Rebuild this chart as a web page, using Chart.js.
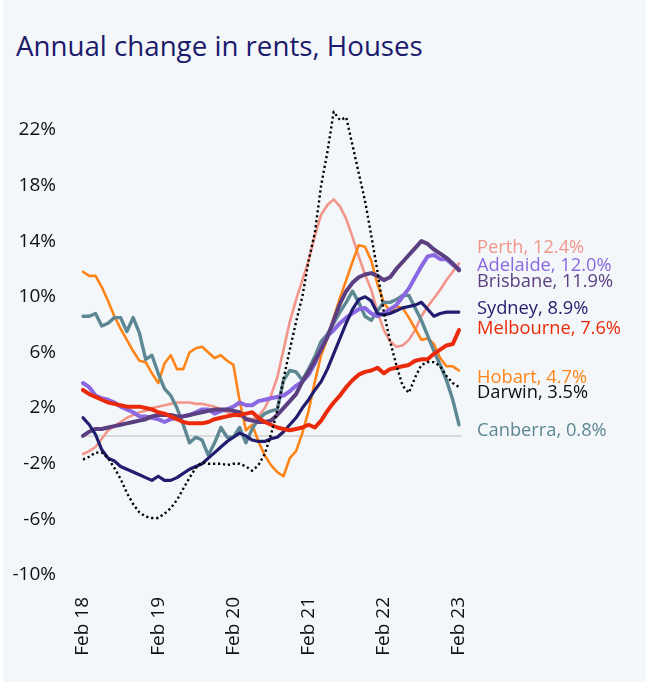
<!DOCTYPE html>
<html><head><meta charset="utf-8">
<script src="https://cdn.jsdelivr.net/npm/chart.js@4.4.1/dist/chart.umd.min.js"></script>
<style>
html,body{margin:0;padding:0;background:#fff;}
#wrap{position:absolute;left:0;top:0;width:646px;height:682px;overflow:hidden;}
#bg{position:absolute;left:3px;top:0;width:643px;height:682px;background:#f3f7f9;}
#title{position:absolute;left:16px;top:32px;font-family:'Open Sans',sans-serif;font-size:27.7px;line-height:1;color:#1c1a6c;white-space:nowrap;}
canvas{position:absolute;left:0;top:0;}
</style></head><body>
<div id="wrap"><div id="bg"></div><div id="title">Annual change in rents, Houses</div><canvas id="c" width="646" height="682"></canvas></div>
<script>
// ---- data (monthly, Feb 18 .. Feb 23) ----
const xTickLabels = ['Feb 18','Feb 19','Feb 20','Feb 21','Feb 22','Feb 23'];
const yTicks = [-10,-6,-2,2,6,10,14,18,22];

const perth = [-1.3,-1.1,-0.8,-0.2,0.4,0.7,1.0,1.3,1.5,1.7,1.8,2.0,2.1,2.2,2.3,2.4,2.4,2.4,2.3,2.3,2.2,2.1,1.9,1.7,1.5,1.4,1.3,1.2,1.4,2.0,2.9,4.2,6.2,8.2,9.8,11.2,12.6,14.4,15.9,16.6,17.0,16.5,15.6,14.3,12.9,11.6,10.5,8.9,7.6,6.8,6.4,6.5,6.9,7.6,8.6,9.3,9.9,10.5,11.2,11.8,12.4];
const adelaide = [3.8,3.5,2.9,2.7,2.6,2.4,2.1,1.9,1.7,1.4,1.4,1.3,1.2,1.0,1.2,1.3,1.4,1.5,1.7,1.9,1.9,1.6,1.8,1.9,2.1,2.4,2.2,2.2,2.5,2.6,2.7,2.8,2.9,3.2,3.6,3.9,4.4,5.2,6.3,7.2,7.6,8.1,8.5,8.8,9.1,9.2,8.8,8.6,8.8,9.1,9.4,10.0,10.6,11.4,12.2,12.9,13.0,12.7,12.7,12.3,12.0];
const brisbane = [0.0,0.3,0.5,0.5,0.6,0.7,0.8,0.9,1.0,1.1,1.2,1.4,1.5,1.5,1.5,1.4,1.4,1.5,1.6,1.7,1.8,1.9,1.9,1.9,1.8,1.7,1.2,1.1,1.0,1.0,1.1,1.5,2.0,2.5,3.0,3.9,4.6,5.4,6.2,7.1,8.3,9.5,10.4,11.0,11.4,11.6,11.7,11.5,11.2,11.4,12.0,12.5,13.0,13.5,14.0,13.8,13.4,13.1,12.8,12.4,11.9];
const sydney = [1.3,0.8,0.1,-1.0,-1.6,-1.8,-2.2,-2.4,-2.6,-2.8,-3.0,-3.2,-2.9,-3.2,-3.2,-3.0,-2.7,-2.4,-2.2,-2.0,-1.6,-1.2,-0.8,-0.4,-0.1,0.2,0.0,-0.3,-0.4,-0.4,-0.2,-0.1,0.3,0.8,1.3,2.0,2.6,3.3,3.9,4.8,5.9,7.0,8.1,9.1,9.8,10.0,9.7,8.8,8.7,8.8,9.0,9.2,9.3,9.4,9.6,9.1,8.6,8.8,8.9,8.9,8.9];
const melbourne = [3.3,3.0,2.8,2.6,2.4,2.3,2.2,2.1,2.1,2.1,2.0,1.9,1.7,1.6,1.4,1.2,1.0,0.9,0.9,0.9,1.0,1.2,1.3,1.4,1.5,1.5,1.6,1.7,1.3,1.0,0.8,0.6,0.5,0.4,0.5,0.6,0.8,0.6,1.1,1.8,2.4,2.9,3.5,4.0,4.4,4.6,4.7,4.9,4.5,4.8,4.9,5.0,5.1,5.4,5.5,5.5,5.9,6.2,6.5,6.6,7.6];
const hobart = [11.8,11.5,11.5,10.7,9.7,8.6,7.7,6.9,6.1,5.4,5.3,4.5,3.8,5.2,5.8,4.8,4.8,6.0,6.3,6.4,6.0,5.6,5.8,5.4,5.1,2.5,0.4,0.8,-0.4,-1.4,-2.1,-2.6,-2.9,-1.6,-1.1,0.2,1.8,3.9,5.8,7.0,8.5,9.9,11.2,12.5,13.7,13.6,12.6,10.9,9.6,8.9,9.3,9.2,8.5,7.7,6.9,7.0,6.6,5.6,5.0,5.0,4.7];
const darwin = [-1.7,-1.5,-1.2,-1.2,-1.6,-2.3,-3.1,-4.1,-4.9,-5.5,-5.8,-5.9,-5.9,-5.6,-5.2,-4.6,-3.8,-3.0,-2.3,-1.9,-2.0,-2.0,-2.0,-2.1,-2.0,-2.0,-2.2,-2.5,-2.1,-1.3,0.1,1.8,4.1,6.2,8.2,10.0,12.6,14.6,18.0,20.4,23.3,22.7,22.9,20.9,18.9,16.9,14.4,11.8,8.9,6.8,5.1,3.6,3.1,4.2,5.1,5.3,5.3,5.0,4.3,3.8,3.5];
const canberra = [8.6,8.6,8.8,7.9,8.1,8.5,8.5,7.5,8.5,7.4,5.5,5.8,4.5,3.4,2.9,2.0,0.8,-0.5,-0.1,-0.3,-1.4,-0.5,0.6,-0.1,-0.1,0.6,-0.5,0.5,1.2,1.6,1.8,1.9,4.0,4.7,4.6,4.0,4.8,5.7,6.8,7.3,8.1,8.9,9.6,10.4,9.6,8.6,8.3,9.0,9.6,9.6,9.8,10.1,10.1,9.2,8.3,7.2,6.1,5.1,4.0,2.6,0.8];

// categories: 61 months from Feb 18
const monNames = ['Jan','Feb','Mar','Apr','May','Jun','Jul','Aug','Sep','Oct','Nov','Dec'];
const categories = [];
for (let i = 0; i < perth.length; i++) {
  const m = (1 + i) % 12, yr = 18 + Math.floor((1 + i) / 12);
  categories.push(monNames[m] + ' ' + yr);
}

// ---- styling ----
const series = [
  {name:'Darwin',    data:darwin,    color:'#000000', text:'#0d0d0d', width:2.4, dash:[2.2,2.8], labelAt:3.1},
  {name:'Melbourne', data:melbourne, color:'#ea2a0a', text:'#ea2a0a', width:4,   labelAt:7.7},
  {name:'Sydney',    data:sydney,    color:'#211d6e', text:'#211d6e', width:3.2, labelAt:9.1},
  {name:'Brisbane',  data:brisbane,  color:'#5b3f80', text:'#5b3f80', width:4,   labelAt:11.1},
  {name:'Adelaide',  data:adelaide,  color:'#8a68e2', text:'#8a68e2', width:4,   labelAt:12.2},
  {name:'Canberra',  data:canberra,  color:'#5d8793', text:'#5d8793', width:3.4, labelAt:0.4},
  {name:'Hobart',    data:hobart,    color:'#ff8418', text:'#ff8418', width:2.6, labelAt:4.2},
  {name:'Perth',     data:perth,     color:'#f2958b', text:'#f2958b', width:2.6, labelAt:13.5}
];

const FONT = "'Open Sans', sans-serif";

const extras = {
  id:'extras',
  beforeDatasetsDraw(chart){
    const {ctx, chartArea, scales:{y}} = chart;
    const y0 = y.getPixelForValue(0);
    ctx.save();
    ctx.strokeStyle = '#d8d9db'; ctx.lineWidth = 2;
    ctx.beginPath(); ctx.moveTo(chartArea.left, y0); ctx.lineTo(chartArea.right + 3, y0); ctx.stroke();
    ctx.restore();
  },
  afterDatasetsDraw(chart){
    const {ctx, chartArea, scales:{y}} = chart;
    ctx.save();
    ctx.font = "18.3px " + FONT;
    ctx.textBaseline = 'middle'; ctx.textAlign = 'left';
    series.forEach(s => {
      ctx.fillStyle = s.text;
      const last = s.data[s.data.length - 1];
      ctx.fillText(s.name + ', ' + last.toFixed(1) + '%', chartArea.right + 18, y.getPixelForValue(s.labelAt));
    });
    ctx.restore();
  }
};

new Chart(document.getElementById('c'), {
  type:'line',
  data:{
    labels: categories,
    datasets: series.map(s => ({
      label: s.name, data: s.data,
      borderColor: s.color, backgroundColor: s.color,
      borderWidth: s.width, borderDash: s.dash || [],
      borderCapStyle: s.dash ? 'butt' : 'round', borderJoinStyle: 'round',
      pointRadius: 0, tension: 0, fill: false
    }))
  },
  options:{
    responsive:false, animation:false,
    layout:{padding:{top:102, left:0, right:187, bottom:0}},
    plugins:{legend:{display:false}, tooltip:{enabled:false}, title:{display:false}},
    scales:{
      x:{
        grid:{display:false, drawTicks:false}, border:{display:false},
        afterFit(scale){ scale.height = 107; },
        ticks:{
          autoSkip:false, minRotation:90, maxRotation:90, padding:22,
          color:'#111', font:{family:FONT, size:19},
          callback(v, i){ return i % 12 === 0 ? xTickLabels[i / 12] : ''; }
        }
      },
      y:{
        min:-10, max:24,
        grid:{display:false, drawTicks:false}, border:{display:false},
        afterFit(scale){ scale.width = 83; },
        afterBuildTicks(scale){ scale.ticks = yTicks.map(v => ({value:v})); },
        ticks:{
          padding:27, color:'#111', font:{family:FONT, size:19},
          callback(v){ return v + '%'; }
        }
      }
    }
  },
  plugins:[extras]
});
</script>
</body></html>
